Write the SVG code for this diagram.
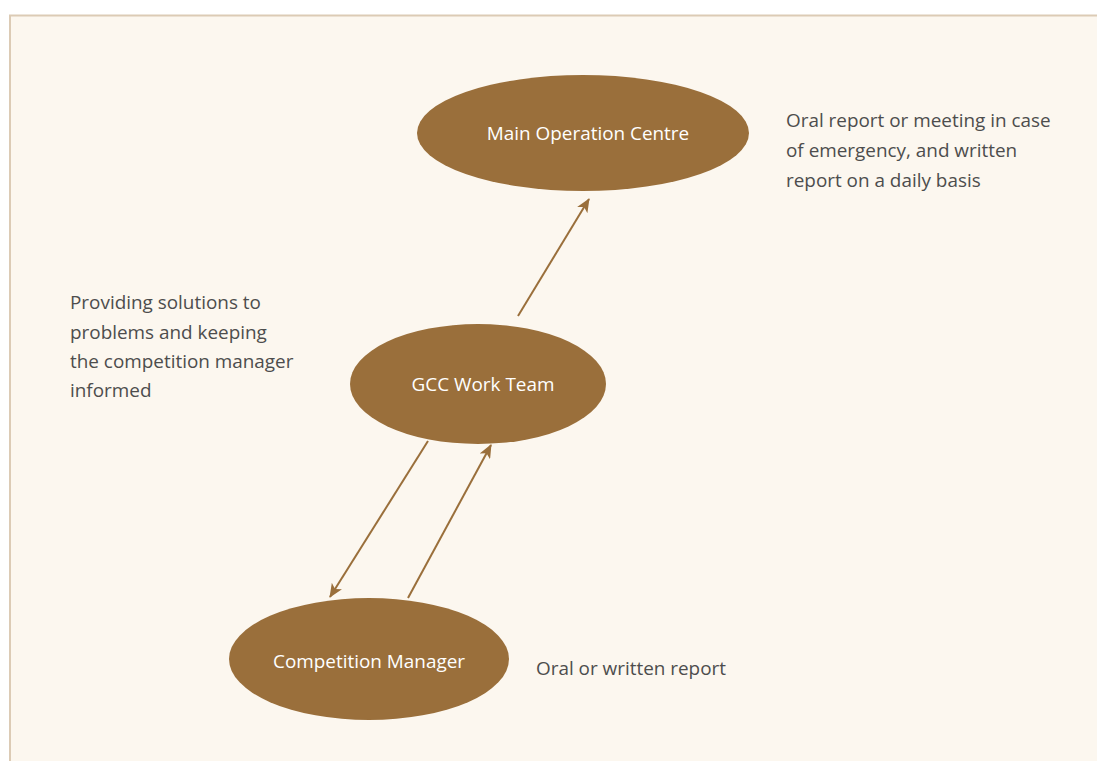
<svg xmlns="http://www.w3.org/2000/svg" width="1097" height="761" viewBox="0 0 1097 761">
<style>
.node{fill:#9a6f3b}
.nt{font-family:"Open Sans","Liberation Sans",sans-serif;font-size:18.9px;fill:#ffffff;text-anchor:middle}
.lb{font-family:"Open Sans","Liberation Sans",sans-serif;font-size:18.9px;fill:#4d4d4d}
.conn{stroke:#9a6f3b;stroke-width:2;fill:none;marker-end:url(#ah)}
</style>
<defs>
<marker id="ah" viewBox="0 0 14 12" refX="13" refY="6" markerWidth="14" markerHeight="12" markerUnits="userSpaceOnUse" orient="auto">
<path d="M0,0 L14,6 L0,12 L3.5,6 Z" fill="#9a6f3b"/>
</marker>
</defs>
<rect x="0" y="0" width="1097" height="761" fill="#ffffff"/>
<rect x="10" y="15.5" width="1100" height="760" fill="#fcf7ef" stroke="#dccbb5" stroke-width="2"/>
<g id="connectors">
<line class="conn" x1="518" y1="316" x2="589" y2="199"/>
<line class="conn" x1="428" y1="441" x2="330" y2="597"/>
<line class="conn" x1="408" y1="598" x2="491" y2="445"/>
</g>
<g id="main-operation-centre">
<ellipse class="node" cx="583" cy="133" rx="166" ry="58"/>
<text class="nt" x="588" y="140">Main Operation Centre</text>
</g>
<g id="gcc-work-team">
<ellipse class="node" cx="478" cy="384" rx="128" ry="60"/>
<text class="nt" x="483" y="391">GCC Work Team</text>
</g>
<g id="competition-manager">
<ellipse class="node" cx="369" cy="659" rx="140" ry="61"/>
<text class="nt" x="369" y="668">Competition Manager</text>
</g>
<g id="label-top">
<text class="lb" x="786" y="127">Oral report or meeting in case</text>
<text class="lb" x="786" y="157">of emergency, and written</text>
<text class="lb" x="786" y="187">report on a daily basis</text>
</g>
<g id="label-left">
<text class="lb" x="70" y="309">Providing solutions to</text>
<text class="lb" x="70" y="339">problems and keeping</text>
<text class="lb" x="70" y="368">the competition manager</text>
<text class="lb" x="70" y="397">informed</text>
</g>
<g id="label-bottom">
<text class="lb" x="536" y="675">Oral or written report</text>
</g>
</svg>
